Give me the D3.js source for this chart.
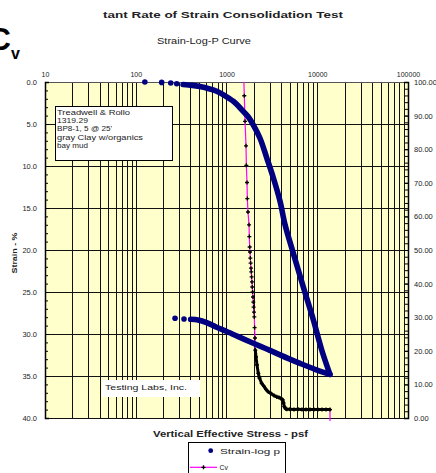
<!DOCTYPE html>
<html>
<head>
<meta charset="utf-8">
<script src="https://cdn.jsdelivr.net/npm/d3@7"></script>
<style>
  body { margin: 0; background: #fff; }
  text { font-family: "Liberation Sans", Arial, sans-serif; fill: #222; }
</style>
</head>
<body>
<div id="chart"></div>
<script>
// sparse first readings (drawn as separate dots), then the dense loading curve
var loadDotStress = [126, 193, 243, 283];
var loadDotStrain = [0.0, 0.05, 0.12, 0.2];
var loadStress = [332, 420, 510, 640, 780, 980, 1190, 1350, 1530, 1750, 1970, 2340, 2770, 3280, 3890, 4420, 5450, 7020, 9050, 11200, 13800];
var loadStrain = [0.3, 0.4, 0.55, 0.8, 1.1, 1.7, 2.3, 2.85, 3.5, 4.2, 5.1, 6.7, 9.0, 11.4, 14.2, 17.0, 20.4, 24.4, 28.3, 31.9, 34.8];

// unloading back to the seating load
var unloadStress = [13800, 9440, 6460, 4760, 3573, 2656, 1974, 1409, 1005, 766, 605, 485, 403];
var unloadStrain = [34.8, 34.2, 33.5, 32.9, 32.3, 31.7, 31.1, 30.4, 29.7, 29.17, 28.65, 28.33, 28.25];
var unloadDotStress = [340, 271];
var unloadDotStrain = [28.21, 28.13];

// Cv vs stress (right axis)
var cvStress = [1540, 1571, 1600, 1641, 1654, 1683, 1696, 1725, 1771, 1784,
    1801, 1816, 1830, 1844, 1862, 1876, 1891, 1910, 1924, 1939, 1959, 1974, 1989,
    2009, 2025, 2040, 2061, 2077,
    2114, 2168, 2241, 2310, 2443, 2590, 2725, 2888, 3093, 3338, 3575, 3789, 3987,
    4163, 4248, 4335, 4469, 4607,
    5009, 5543, 6134, 6792, 7516, 8318, 9204, 10193, 11281, 12487, 13820, 13820];
var cvValue = [104, 95.9, 88.3, 81.0, 75.2, 70.1, 65.3, 61.3, 57.5, 54.0,
    50.9, 49.4, 47.6, 46.1, 44.6, 43.5, 42.0, 40.5, 39.0, 37.5, 36.0, 34.5, 33.0,
    31.5, 30.1, 26.9, 23.8, 20.2,
    18.2, 15.8, 13.3, 11.9, 10.3, 9.4, 8.5, 7.8, 7.3, 6.7, 6.3, 6.1, 5.8,
    5.4, 4.5, 3.4, 2.8, 2.6,
    2.6, 2.5, 2.6, 2.5, 2.5, 2.5, 2.5, 2.5, 2.5, 2.5, 2.5, -1];

var xTicks = [10, 100, 1000, 10000, 100000];
var boxLines = ["Treadwell & Rollo", "1319.29", "BP8-1, 5 @ 25'", "gray Clay w/organics", "bay mud"];

var W = 436, H = 473;
var plotL = 45, plotR = 408, plotT = 82, plotB = 418;

var svg = d3.select("#chart")
    .append("svg")
    .attr("width", W)
    .attr("height", H);

svg.append("rect").attr("width", W).attr("height", H).attr("fill", "#fff");

var x = d3.scaleLog().domain([10, 100000]).range([plotL, plotR]);
var y = d3.scaleLinear().domain([0, 40]).range([plotT, plotB]);
var y2 = d3.scaleLinear().domain([0, 100]).range([plotB, plotT]);

function label(px, py, str, size, weight, len, anchor) {
    var t = svg.append("text")
        .attr("x", px)
        .attr("y", py)
        .style("font-size", size + "px")
        .style("font-weight", weight || "normal")
        .attr("text-anchor", anchor || "start")
        .text(str);
    if (len) t.attr("textLength", len).attr("lengthAdjust", "spacingAndGlyphs");
    return t;
}

// plot area
svg.append("rect")
    .attr("x", plotL).attr("y", plotT)
    .attr("width", plotR - plotL).attr("height", plotB - plotT)
    .attr("fill", "#ffffcc");

// vertical log grid
var gridX = [];
for (var d = 10; d < 100000; d *= 10) {
    for (var k = 1; k < 10; k++) gridX.push(d * k);
}
gridX.push(100000);
svg.append("g").selectAll("line")
    .data(gridX)
    .enter()
    .append("line")
    .attr("x1", function (d) { return Math.round(x(d)) + 0.5; })
    .attr("x2", function (d) { return Math.round(x(d)) + 0.5; })
    .attr("y1", plotT).attr("y2", plotB)
    .attr("stroke", "#111").attr("stroke-width", 1);

svg.append("g").selectAll("line")
    .data(d3.range(0, 45, 5))
    .enter()
    .append("line")
    .attr("x1", plotL).attr("x2", plotR)
    .attr("y1", function (d) { return Math.round(y(d)) + 0.5; })
    .attr("y2", function (d) { return Math.round(y(d)) + 0.5; })
    .attr("stroke", "#111").attr("stroke-width", 1);

// axes
var topAxis = svg.append("g")
    .attr("transform", "translate(0," + plotT + ")")
    .call(d3.axisTop(x).tickValues(xTicks).tickFormat(d3.format("d")).tickSize(0).tickPadding(5));
topAxis.select(".domain").attr("stroke", "#555");
topAxis.selectAll("text").style("font-size", "7px").attr("fill", "#333");

var leftAxis = svg.append("g")
    .attr("transform", "translate(" + plotL + ",0)")
    .call(d3.axisLeft(y).tickValues(d3.range(0, 45, 5)).tickFormat(d3.format(".1f")).tickSize(-4).tickPadding(8));
leftAxis.selectAll("text").style("font-size", "7.5px").attr("fill", "#333");
leftAxis.select(".domain").attr("stroke-width", 1.5);
svg.append("g")
    .attr("transform", "translate(" + plotL + ",0)")
    .call(d3.axisLeft(y).ticks(40).tickFormat("").tickSize(-3))
    .select(".domain").remove();

var rightAxis = svg.append("g")
    .attr("transform", "translate(" + plotR + ",0)")
    .call(d3.axisRight(y2).tickValues(d3.range(0, 110, 10)).tickFormat(d3.format(".2f")).tickSize(-4).tickPadding(6));
rightAxis.selectAll("text").style("font-size", "7.5px").attr("fill", "#333");
rightAxis.select(".domain").attr("stroke-width", 1.5);
svg.append("g")
    .attr("transform", "translate(" + plotR + ",0)")
    .call(d3.axisRight(y2).ticks(50).tickFormat("").tickSize(-3))
    .select(".domain").remove();

// titles
label(223, 18, "tant Rate of Strain Consolidation Test", 9.5, "bold", 240, "middle");
label(204, 44, "Strain-Log-P Curve", 8.5, "normal", 94, "middle");
label(11, 50, "C", 31, "bold", null, "end").style("fill", "#000");
label(11, 59, "v", 16, "bold").style("fill", "#000");
label(230.5, 436.5, "Vertical Effective Stress - psf", 9, "bold", 155, "middle");
label(0, 0, "Strain - %", 8, "bold", 41, "middle")
    .attr("transform", "translate(17,253) rotate(-90)");

// info boxes
svg.append("rect")
    .attr("x", 55.5).attr("y", 106.5).attr("width", 117).attr("height", 54)
    .attr("fill", "#fff").attr("stroke", "#000").attr("stroke-width", 1);
var boxLens = [73, 31, 55, 86, 31];
boxLines.forEach(function (s, i) {
    label(57, 114.6 + i * 8.3, s, 7, "normal", boxLens[i]);
});

svg.append("rect")
    .attr("x", 102).attr("y", 380).attr("width", 98).attr("height", 17)
    .attr("fill", "#fff");
label(105, 389.8, "Testing Labs, Inc.", 7.5, "normal", 82);

// Cv series
var cvPts = cvStress.map(function (s, i) { return [x(s), y2(cvValue[i])]; });
svg.append("clipPath").attr("id", "cvclip")
    .append("rect").attr("x", plotL).attr("y", plotT).attr("width", plotR - plotL).attr("height", plotB - plotT + 3);
var cvG = svg.append("g").attr("clip-path", "url(#cvclip)");
cvG.append("path")
    .attr("d", d3.line()(cvPts))
    .attr("fill", "none").attr("stroke", "#ff00ff").attr("stroke-width", 1.2);
// where readings crowd together the markers merge into a solid black band
for (var i = 1; i < cvPts.length; i++) {
    var dx = cvPts[i][0] - cvPts[i - 1][0], dy = cvPts[i][1] - cvPts[i - 1][1];
    if (Math.sqrt(dx * dx + dy * dy) < 10 && cvValue[i] < 20 && cvValue[i] > 0) {
        cvG.append("line")
            .attr("x1", cvPts[i - 1][0]).attr("y1", cvPts[i - 1][1])
            .attr("x2", cvPts[i][0]).attr("y2", cvPts[i][1])
            .attr("stroke", "#000").attr("stroke-width", 3).attr("stroke-linecap", "round");
    }
}
var star = d3.symbol().type(d3.symbolCross).size(9);
cvG.selectAll(".cvm")
    .data(cvPts.filter(function (p, i) { return cvValue[i] >= 0 && cvValue[i] <= 100; }))
    .enter()
    .append("path")
    .attr("class", "cvm")
    .attr("d", star)
    .attr("transform", function (p) { return "translate(" + p[0] + "," + p[1] + ")"; })
    .attr("fill", "#000");

// Strain-log p series
var navy = "#000080";
function strainCurve(st, sn) {
    var pts = st.map(function (s, i) { return [x(s), y(sn[i])]; });
    svg.append("path")
        .attr("d", d3.line().curve(d3.curveCatmullRom)(pts))
        .attr("fill", "none").attr("stroke", navy)
        .attr("stroke-width", 5.6).attr("stroke-linejoin", "round").attr("stroke-linecap", "round");
}
strainCurve(loadStress, loadStrain);
strainCurve(unloadStress, unloadStrain);

var dots = loadDotStress.map(function (s, i) { return [s, loadDotStrain[i]]; })
    .concat(unloadDotStress.map(function (s, i) { return [s, unloadDotStrain[i]]; }));
svg.selectAll(".sd")
    .data(dots)
    .enter()
    .append("circle")
    .attr("class", "sd")
    .attr("cx", function (d) { return x(d[0]); })
    .attr("cy", function (d) { return y(d[1]); })
    .attr("r", 2.8)
    .attr("fill", navy);

// legend
svg.append("rect")
    .attr("x", 188.5).attr("y", 442.5).attr("width", 97).attr("height", 40)
    .attr("fill", "#fff").attr("stroke", "#000").attr("stroke-width", 1);
svg.append("circle").attr("cx", 210.7).attr("cy", 450.7).attr("r", 2.4).attr("fill", navy);
label(220, 453.8, "Strain-log p", 8, "normal", 60);
svg.append("line")
    .attr("x1", 190).attr("x2", 217).attr("y1", 467.3).attr("y2", 467.3)
    .attr("stroke", "#ff00ff").attr("stroke-width", 1.2);
svg.append("path").attr("d", star).attr("transform", "translate(203.5,467.3)").attr("fill", "#000");
label(219.5, 470, "Cv", 8, "normal", 8.5);
</script>
</body>
</html>
